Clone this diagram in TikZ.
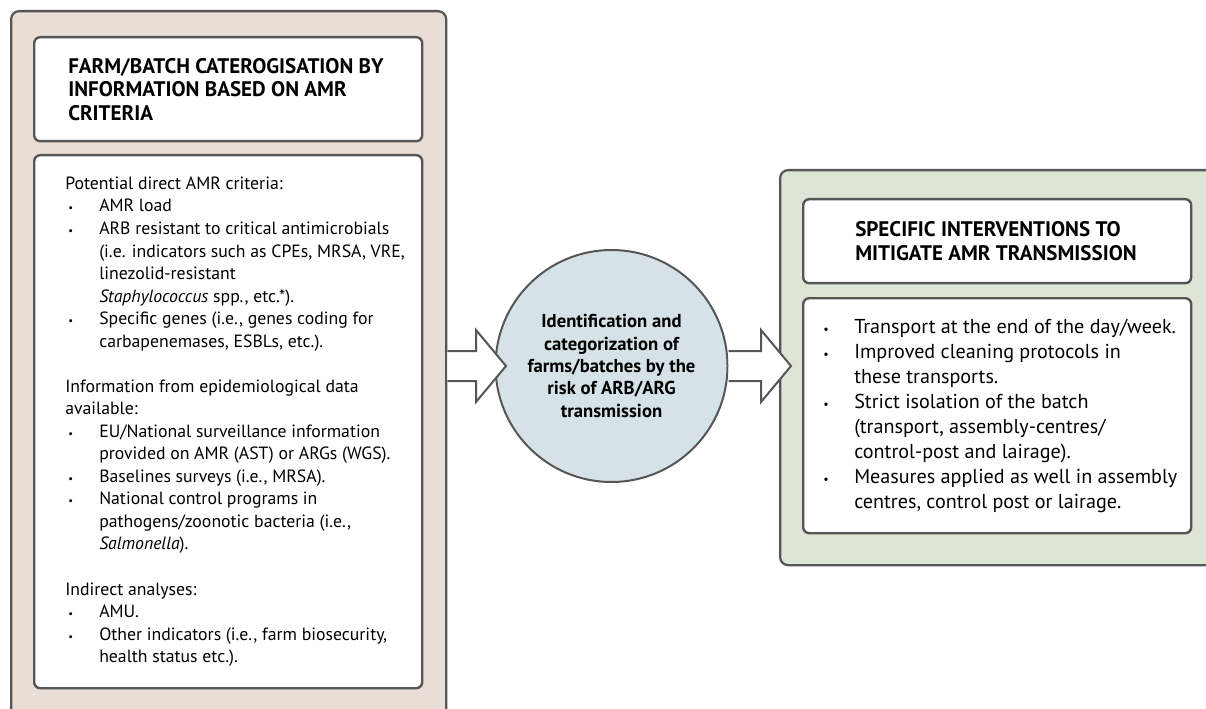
\documentclass[tikz,border=0pt]{standalone}
\usepackage{fontspec}
\setmainfont{PT Sans}
\usetikzlibrary{calc}
\definecolor{panelbeige}{HTML}{E8DED5}
\definecolor{panelgreen}{HTML}{DFE5D4}
\definecolor{riskblue}{HTML}{D5E3E9}
\definecolor{linegray}{HTML}{565656}
\newcommand{\bitem}{\makebox[25.5pt][l]{\hspace*{2.25pt}\scalebox{0.6}{\textbullet}}}
\newcommand{\bcont}{\hspace*{25.5pt}}
\newcommand{\blockarrow}[2]{%
	\draw[blockarr] ($(#1)+(0,-15)$) -- ($(#2)+(-30,-15)$) -- ($(#2)+(-30,-36)$) -- (#2) -- ($(#2)+(-30,36)$) -- ($(#2)+(-30,15)$) -- ($(#1)+(0,15)$);}
\begin{document}
\begin{tikzpicture}[x=0.75pt,y=-0.75pt,line join=round,
		panel/.style={draw=linegray,line width=1.7pt,rounded corners=6pt,inner sep=0pt,anchor=north west},
		innerbox/.style={draw=linegray,fill=white,line width=1.8pt,rounded corners=4.5pt,inner sep=0pt,anchor=north west,minimum width=291pt},
		headtext/.style={anchor=west,align=left,inner sep=0pt,font=\bfseries\fontsize{15.8}{17.6}\selectfont},
		bodytext/.style={anchor=west,align=left,inner sep=0pt,font=\fontsize{13.3}{16.9}\selectfont},
		righttext/.style={anchor=west,align=left,inner sep=0pt,font=\fontsize{15.1}{18.75}\selectfont},
		blockarr/.style={draw=linegray,fill=white,line width=1.5pt,line join=miter}]
	\useasboundingbox (0,0) rectangle (1206,709);
	% panels
	\node[panel,fill=panelbeige,minimum width=326.25pt,minimum height=547.5pt] (amrpanel) at (10,10) {};
	\node[panel,fill=panelgreen,minimum width=345.75pt,minimum height=296.25pt] (interpanel) at (779,169) {};
	% left side
	\node[innerbox,minimum height=78pt] (farmtitle) at (33,36) {};
	\node[headtext] (farmhead) at ([xshift=26.25pt]farmtitle.west) {FARM/BATCH CATEROGISATION BY\\INFORMATION BASED ON AMR\\CRITERIA};
	\node[innerbox,minimum height=399.75pt] (farmbox) at (33,154) {};
	\node[bodytext] (farmlist) at ([xshift=24pt]farmbox.west) {Potential direct AMR criteria:\\
		\bitem AMR load\\
		\bitem ARB resistant to critical antimicrobials\\
		\bcont (i.e. indicators such as CPEs, MRSA, VRE,\\
		\bcont linezolid-resistant\\
		\bcont \textit{Staphylococcus} spp., etc.*).\\
		\bitem Specific genes (i.e., genes coding for\\
		\bcont carbapenemases, ESBLs, etc.).\\[16.9pt]
		Information from epidemiological data\\
		available:\\
		\bitem EU/National surveillance information\\
		\bcont provided on AMR (AST) or ARGs (WGS).\\
		\bitem Baselines surveys (i.e., MRSA).\\
		\bitem National control programs in\\
		\bcont pathogens/zoonotic bacteria (i.e.,\\
		\bcont \textit{Salmonella}).\\[16.9pt]
		Indirect analyses:\\
		\bitem AMU.\\
		\bitem Other indicators (i.e., farm biosecurity,\\
		\bcont health status etc.).};
	% right side
	\node[innerbox,minimum height=63pt] (intertitle) at (802,198) {};
	\node[headtext] (interhead) at ([xshift=39.75pt]intertitle.west) {SPECIFIC INTERVENTIONS TO\\MITIGATE AMR TRANSMISSION};
	\node[innerbox,minimum height=176.25pt] (interbox) at (802,297) {};
	\node[righttext] (interlist) at ([xshift=13.5pt]interbox.west) {\bitem Transport at the end of the day/week.\\
		\bitem Improved cleaning protocols in\\
		\bcont these transports.\\
		\bitem Strict isolation of the batch\\
		\bcont (transport, assembly-centres/\\
		\bcont control-post and lairage).\\
		\bitem Measures applied as well in assembly\\
		\bcont centres, control post or lairage.};
	% centre
	\node[circle,draw=linegray,fill=riskblue,line width=1.5pt,minimum size=174pt,inner sep=0pt,align=center,font=\bfseries\fontsize{14}{16.75}\selectfont] (riskcircle) at (611.5,366) {Identification and\\categorization of\\farms/batches by the\\risk of ARB/ARG\\transmission};
	\coordinate (farmstart) at (amrpanel.east |- riskcircle.center);
	\coordinate (farmtip) at ($(riskcircle.west)+(11.5,0)$);
	\coordinate (interstart) at (riskcircle.east);
	\coordinate (intertip) at ($(interpanel.west |- riskcircle.center)+(12,0)$);
	\blockarrow{farmstart}{farmtip}
	\blockarrow{interstart}{intertip}
\end{tikzpicture}
\end{document}
